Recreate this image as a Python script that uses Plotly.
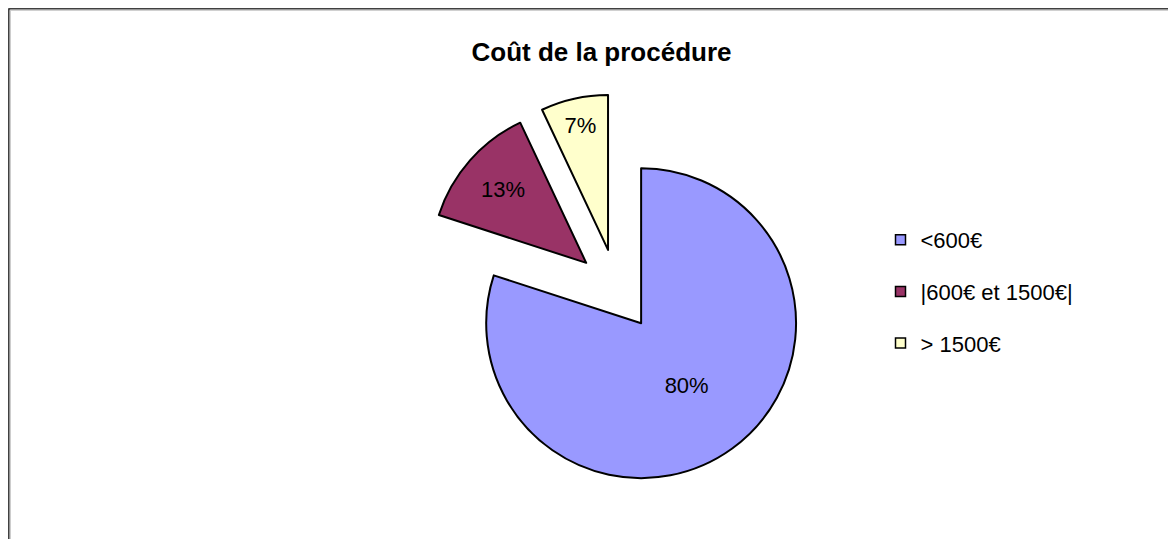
import plotly.graph_objects as go

categories = ["<600€", "|600€ et 1500€|", "> 1500€"]
values = [80, 13, 7]
colors = ["#9999FF", "#993366", "#FFFFCC"]
title = "Coût de la procédure"

W, H = 1176, 539
FONT = "Arial, Liberation Sans, sans-serif"

fig = go.Figure()

fig.add_trace(go.Pie(
    labels=categories,
    values=values,
    sort=False,
    direction="clockwise",
    rotation=0,
    pull=[0.265] * len(values),
    marker=dict(colors=colors, line=dict(color="black", width=2)),
    textinfo="percent",
    textposition="inside",
    insidetextorientation="horizontal",
    insidetextfont=dict(color="black", size=22, family=FONT),
    showlegend=False,
    domain=dict(x=[0.3512, 0.6845], y=[0.1132, 0.8404]),
))

# legend entries, one group each so the gap can be set
for name, col in zip(categories, colors):
    fig.add_trace(go.Scatter(
        x=[None], y=[None], mode="markers", name=name, legendgroup=name,
        marker=dict(symbol="square", size=10, color=col, line=dict(color="black", width=1.5)),
    ))

# frame at top / left edge (page has an 8px body margin)
def px(v):
    return v / W
def py(v):
    return 1 - v / H

frame = []
for off, c, w in [(0.5, "#404040", 2.5), (2.2, "#c0c0c0", 1.2)]:
    frame.append(dict(type="line", xref="paper", yref="paper", x0=px(off), x1=1.01,
                      y0=py(off), y1=py(off), line=dict(color=c, width=w)))
    frame.append(dict(type="line", xref="paper", yref="paper", x0=px(off), x1=px(off),
                      y0=py(off), y1=-0.01, line=dict(color=c, width=w)))

fig.update_layout(
    width=W, height=H,
    margin=dict(l=0, r=0, t=0, b=0),
    paper_bgcolor="white", plot_bgcolor="white",
    font=dict(family=FONT, color="black"),
    title=dict(text="<b>" + title + "</b>", x=593.5 / W, xanchor="center",
               y=1 - 44 / H, yanchor="middle", font=dict(size=26, family=FONT)),
    xaxis=dict(visible=False), yaxis=dict(visible=False),
    legend=dict(x=872.5 / W, xanchor="left", y=1 - 211 / H, yanchor="top",
                font=dict(size=22, family=FONT), tracegroupgap=20,
                bgcolor="rgba(0,0,0,0)"),
    shapes=frame,
)

fig.write_html("out.html")
